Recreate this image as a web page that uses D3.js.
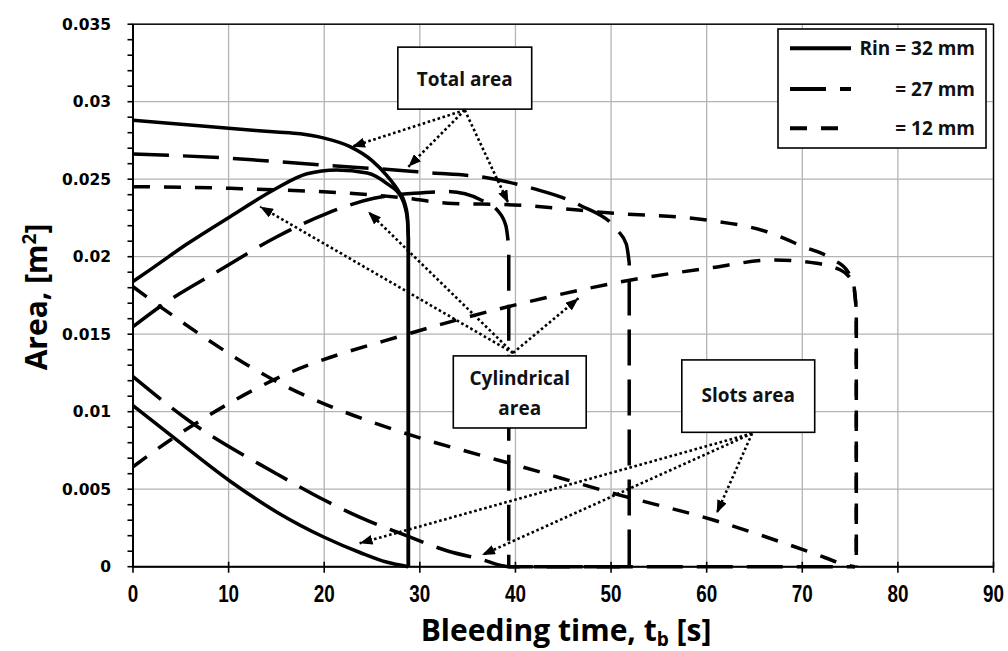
<!DOCTYPE html>
<html>
<head>
<meta charset="utf-8">
<script src="https://cdn.jsdelivr.net/npm/d3@7/dist/d3.min.js"></script>
<style>
  body { margin: 0; background: #fff; }
  svg { display: block; }
</style>
</head>
<body>
<svg id="chart" width="1008" height="651"></svg>
<script>
// ---- Data: [bleeding time (s), area (m^2)] ----
// Rin = 32 mm
const rin32Total = [[0,0.0288],[5,0.02855],[10,0.02828],[15,0.02805],[17.5,0.02793],[20,0.02765],[22.7,0.0271],[25,0.0262],[26.6,0.0252],[27.8,0.0242],[28.4,0.0235],[28.7,0.0226],[28.8,0.0212],[28.8,0]];
const rin32Cyl   = [[0,0.0184],[2,0.01925],[5.6,0.0208],[10.2,0.0226],[14.7,0.0243],[18.2,0.02535],[21.3,0.0256],[24.5,0.0254],[26.6,0.0247],[28,0.0239],[28.5,0.0231],[28.7,0.0224],[28.8,0.0212],[28.8,0]];
const rin32Slots = [[0,0.0104],[3.9,0.0085],[10.2,0.0055],[15.1,0.0035],[20,0.0019],[23.8,0.0009],[26.5,0.0003],[28.8,0]];
// Rin = 27 mm
const rin27Total = [[0,0.02663],[10.2,0.02635],[19.6,0.02592],[28.7,0.02553],[30.6,0.02543],[36.7,0.02512],[41.8,0.02441],[46.7,0.02334],[50.7,0.02168],[51.6,0.0208],[51.9,0.0196],[51.9,0]];
const rin27Cyl   = [[0,0.01548],[2.8,0.01677],[9.1,0.01914],[15.1,0.0213],[20.3,0.0228],[25.2,0.02377],[29.4,0.02409],[32.9,0.0242],[36.4,0.02366],[38.1,0.0230],[39,0.0220],[39.3,0.0206],[39.3,0],[75.5,0]];
const rin27Slots = [[0,0.01226],[6,0.00935],[15,0.0060],[20,0.0043],[23.7,0.0032],[28.6,0.0020],[33,0.0010],[36.3,0.0005],[39.3,0],[52,0]];
// Rin = 12 mm
const rin12Total = [[0,0.02452],[10.2,0.02441],[28.7,0.02377],[32.9,0.02345],[39.8,0.02334],[50.3,0.0228],[60,0.02237],[66.3,0.02161],[70.1,0.02065],[73.3,0.01979],[74.8,0.0190],[75.4,0.0181],[75.65,0.0166],[75.65,0]];
const rin12Cyl   = [[0,0.00645],[3.9,0.00817],[6.3,0.00914],[14.7,0.01205],[29,0.01506],[39.2,0.01677],[46.8,0.01785],[52.1,0.0185],[60.1,0.01925],[67.1,0.01979],[70.2,0.01968],[74,0.01914],[75.3,0.0183],[75.65,0.0166],[75.65,0]];
const rin12Slots = [[0,0.01806],[2.8,0.0168],[14.7,0.01205],[29,0.0085],[36.3,0.0072],[39.8,0.0066],[50.2,0.00474],[60.7,0.00301],[71.2,0.00086],[74.7,0.0001],[75.5,0]];

const legendLabels = ["Rin = 32 mm", "= 27 mm", "= 12 mm"];
const xTicks = [0, 10, 20, 30, 40, 50, 60, 70, 80, 90];
const yTicks = [0, 0.005, 0.01, 0.015, 0.02, 0.025, 0.03, 0.035];
const yTickLabels = ["0", "0.005", "0.01", "0.015", "0.02", "0.025", "0.03", "0.035"];
const yMinorTicks = d3.range(0, 36).map(i => i / 1000);

// Callouts: box [x0, x1, yTop, yBottom], text lines with baselines, arrow start and targets
const totalBox = [27.7, 41.7, 0.03352, 0.02952];
const totalText = [["Total area", 34.7, 0.03103]];
const totalFrom = [34.7, 0.02946];
const totalTo = [[22.9, 0.0271], [28.8, 0.0258], [39.26, 0.02345]];

const cylBox = [33.5, 47.4, 0.0136, 0.00895];
const cylText = [["Cylindrical", 40.45, 0.01172], ["area", 40.45, 0.00979]];
const cylFrom = [39.75, 0.01379];
const cylTo = [[13.3, 0.02323], [24.6, 0.0229], [46.6, 0.01732]];

const slotBox = [57.4, 71.3, 0.01334, 0.00867];
const slotText = [["Slots area", 64.35, 0.01061]];
const slotFrom = [64.75, 0.0086];
const slotTo = [[23.7, 0.00151], [36.5, 0.00075], [61.05, 0.00345]];

// ---- Layout ----
const svg = d3.select("#chart");
const x = d3.scaleLinear().domain([0, 90]).range([133, 993.5]);
const y = d3.scaleLinear().domain([0, 0.035]).range([566.7, 24.2]);

const labelFont = "'Open Sans', 'DejaVu Sans', sans-serif";

// Gridlines
const grid = svg.append("g").attr("stroke", "#b4b4b4").attr("stroke-width", 1.3);
grid.selectAll("line.v").data(xTicks.slice(1)).join("line")
  .attr("x1", d => x(d)).attr("x2", d => x(d))
  .attr("y1", y(0)).attr("y2", y(0.035));
grid.selectAll("line.h").data(yTicks.slice(1)).join("line")
  .attr("x1", x(0)).attr("x2", x(90))
  .attr("y1", d => y(d)).attr("y2", d => y(d));

// Plot frame
svg.append("rect")
  .attr("x", x(0)).attr("y", y(0.035))
  .attr("width", x(90) - x(0)).attr("height", y(0) - y(0.035))
  .attr("fill", "none").attr("stroke", "#000").attr("stroke-width", 1.4);

// Curves: smooth while time increases, straight for the drop to zero and any flat tail
const smooth = d3.line().x(d => x(d[0])).y(d => y(d[1])).curve(d3.curveMonotoneX);
const straight = d3.line().x(d => x(d[0])).y(d => y(d[1]));
function curvePath(pts) {
  let i = 1;
  while (i < pts.length && pts[i][0] > pts[i - 1][0]) i++;
  if (i >= pts.length) return smooth(pts);
  const head = smooth(pts.slice(0, i));
  const tail = straight(pts.slice(i - 1)).replace(/^M[^L]*/, "");
  return head + tail;
}

const dash32 = null, dash27 = "36,14", dash12 = "17,14";
const series = [
  [rin32Total, dash32], [rin32Cyl, dash32], [rin32Slots, dash32],
  [rin27Total, dash27], [rin27Cyl, dash27], [rin27Slots, dash27],
  [rin12Total, dash12], [rin12Cyl, dash12], [rin12Slots, dash12]
];
svg.append("g").selectAll("path").data(series).join("path")
  .attr("d", d => curvePath(d[0]))
  .attr("fill", "none").attr("stroke", "#000")
  .attr("stroke-width", 3.5)
  .attr("stroke-linejoin", "round")
  .attr("stroke-dasharray", d => d[1]);

// Axes
const xAxis = svg.append("g").attr("transform", `translate(0,${y(0)})`);
xAxis.append("line").attr("x1", x(0)).attr("x2", x(90)).attr("stroke", "#000").attr("stroke-width", 2);
xAxis.selectAll("line.tick").data(xTicks).join("line")
  .attr("x1", d => x(d)).attr("x2", d => x(d))
  .attr("y1", -5).attr("y2", 6).attr("stroke", "#000").attr("stroke-width", 1.6);
xAxis.selectAll("text").data(xTicks).join("text")
  .attr("transform", d => `translate(${x(d)},35) scale(0.82,1)`)
  .attr("text-anchor", "middle")
  .attr("font-family", "'Liberation Sans', Arial, sans-serif")
  .attr("font-weight", "bold").attr("font-size", 23)
  .text(d => d);

const yAxis = svg.append("g").attr("transform", `translate(${x(0)},0)`);
yAxis.append("line").attr("y1", y(0)).attr("y2", y(0.035)).attr("stroke", "#000").attr("stroke-width", 2);
yAxis.selectAll("line.minor").data(yMinorTicks).join("line")
  .attr("x1", -5.5).attr("x2", 0)
  .attr("y1", d => y(d)).attr("y2", d => y(d))
  .attr("stroke", "#000").attr("stroke-width", 1.6);
yAxis.selectAll("text").data(yTicks).join("text")
  .attr("x", -22).attr("y", d => y(d)).attr("dy", "0.36em")
  .attr("text-anchor", "end")
  .attr("font-family", "'DejaVu Sans', sans-serif")
  .attr("font-weight", "bold").attr("font-size", 15.5)
  .text((d, i) => yTickLabels[i]);

// Axis titles
const xTitle = svg.append("text")
  .attr("x", 566).attr("y", 641)
  .attr("text-anchor", "middle")
  .attr("font-family", labelFont).attr("font-weight", "bold").attr("font-size", 30);
xTitle.append("tspan").text("Bleeding time, t");
xTitle.append("tspan").attr("dy", 5).attr("font-size", 19).text("b");
xTitle.append("tspan").attr("dy", -5).text(" [s]");

const yTitle = svg.append("text")
  .attr("transform", "translate(47,297) rotate(-90)")
  .attr("text-anchor", "middle")
  .attr("font-family", labelFont).attr("font-weight", "bold").attr("font-size", 30);
yTitle.append("tspan").text("Area, [m");
yTitle.append("tspan").attr("dy", -11).attr("font-size", 19).text("2");
yTitle.append("tspan").attr("dy", 11).text("]");

// Arrowhead
svg.append("defs").append("marker")
  .attr("id", "tri").attr("viewBox", "0 0 13 10")
  .attr("refX", 13).attr("refY", 5)
  .attr("markerWidth", 13).attr("markerHeight", 10)
  .attr("markerUnits", "userSpaceOnUse").attr("orient", "auto")
  .append("path").attr("d", "M0,0L13,5L0,10Z").attr("fill", "#000");

function callout(box, texts, from, targets) {
  const g = svg.append("g");
  g.selectAll("line").data(targets).join("line")
    .attr("x1", x(from[0])).attr("y1", y(from[1]))
    .attr("x2", d => x(d[0])).attr("y2", d => y(d[1]))
    .attr("stroke", "#000").attr("stroke-width", 2.6)
    .attr("stroke-dasharray", "2.6,2.6")
    .attr("marker-end", "url(#tri)");
  g.append("rect")
    .attr("x", x(box[0])).attr("y", y(box[2]))
    .attr("width", x(box[1]) - x(box[0])).attr("height", y(box[3]) - y(box[2]))
    .attr("fill", "#fff").attr("stroke", "#000").attr("stroke-width", 1.6);
  g.selectAll("text").data(texts).join("text")
    .attr("x", d => x(d[1])).attr("y", d => y(d[2]))
    .attr("text-anchor", "middle")
    .attr("font-family", labelFont).attr("font-weight", "bold").attr("font-size", 19)
    .attr("fill", "#111")
    .text(d => d[0]);
}
callout(totalBox, totalText, totalFrom, totalTo);
callout(cylBox, cylText, cylFrom, cylTo);
callout(slotBox, slotText, slotFrom, slotTo);

// Legend
const legend = svg.append("g");
legend.append("rect")
  .attr("x", 778).attr("y", 29).attr("width", 208).attr("height", 119)
  .attr("fill", "#fff").attr("stroke", "#000").attr("stroke-width", 1.6);
const legendDash = [dash32, dash27, dash12];
const legendRows = [48.3, 89, 128.3];
legend.selectAll("line").data(legendLabels).join("line")
  .attr("x1", 790).attr("x2", 851)
  .attr("y1", (d, i) => legendRows[i]).attr("y2", (d, i) => legendRows[i])
  .attr("stroke", "#000").attr("stroke-width", 4)
  .attr("stroke-dasharray", (d, i) => legendDash[i]);
legend.selectAll("text").data(legendLabels).join("text")
  .attr("x", 975).attr("y", (d, i) => legendRows[i] + 6.8)
  .attr("text-anchor", "end")
  .attr("font-family", labelFont).attr("font-weight", "bold").attr("font-size", 19)
  .attr("fill", "#111")
  .text(d => d);
</script>
</body>
</html>
